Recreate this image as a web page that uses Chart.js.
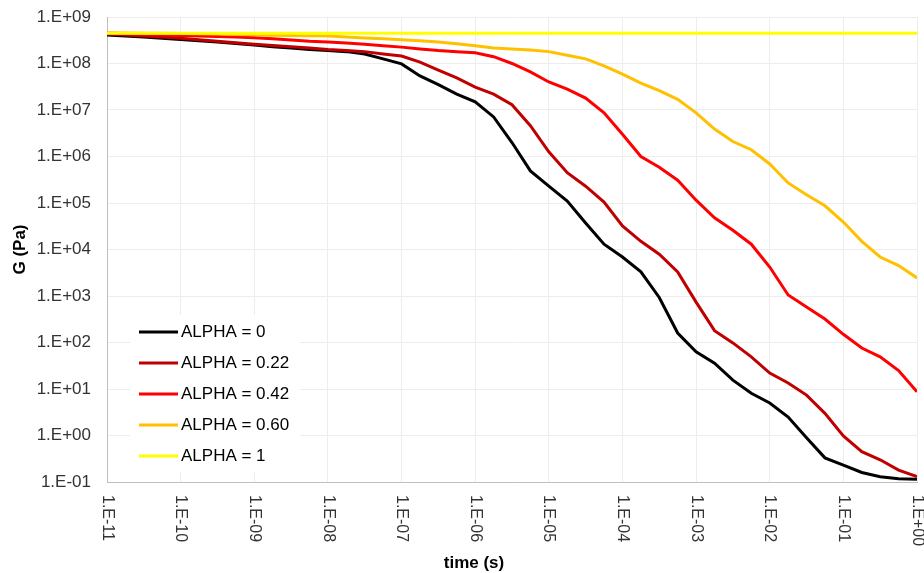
<!DOCTYPE html>
<html>
<head>
<meta charset="utf-8">
<script src="https://cdn.jsdelivr.net/npm/chart.js@4.4.1/dist/chart.umd.min.js"></script>
<style>
  html, body { margin: 0; padding: 0; background: #fff; }
  #wrap { width: 924px; height: 573px; position: relative; }
</style>
</head>
<body>
<div id="wrap"><canvas id="myChart"></canvas></div>
<script>
// time points (s), four per decade
var time = [1e-11, 1.78e-11, 3.16e-11, 5.62e-11, 1e-10, 1.78e-10, 3.16e-10, 5.62e-10,
  1e-9, 1.78e-9, 3.16e-9, 5.62e-9, 1e-8, 1.78e-8, 3.16e-8, 5.62e-8,
  1e-7, 1.78e-7, 3.16e-7, 5.62e-7, 1e-6, 1.78e-6, 3.16e-6, 5.62e-6,
  1e-5, 1.78e-5, 3.16e-5, 5.62e-5, 1e-4, 1.78e-4, 3.16e-4, 5.62e-4,
  1e-3, 1.78e-3, 3.16e-3, 5.62e-3, 1e-2, 1.78e-2, 3.16e-2, 5.62e-2,
  1e-1, 0.178, 0.316, 0.562, 1];

// G (Pa) for each alpha
var alpha0 = [4.1e8, 3.9e8, 3.7e8, 3.5e8, 3.3e8, 3.1e8, 2.9e8, 2.7e8, 2.5e8, 2.3e8, 2.15e8, 2.0e8,
  1.9e8, 1.8e8, 1.6e8, 1.26e8, 9.8e7, 5.4e7, 3.5e7, 2.2e7, 1.5e7, 7.1e6, 2.0e6, 4.9e5,
  2.3e5, 1.1e5, 3.7e4, 1.3e4, 6.9e3, 3.3e3, 930, 160, 63, 36, 15.5, 8.1, 5.0, 2.5,
  0.89, 0.33, 0.23, 0.16, 0.13, 0.117, 0.115];
var alpha022 = [4.3e8, 4.1e8, 3.9e8, 3.7e8, 3.5e8, 3.25e8, 3.0e8, 2.8e8, 2.6e8, 2.45e8, 2.3e8, 2.15e8,
  2.0e8, 1.9e8, 1.8e8, 1.6e8, 1.45e8, 1.07e8, 7.2e7, 4.9e7, 3.1e7, 2.2e7, 1.3e7, 4.6e6,
  1.26e6, 4.5e5, 2.3e5, 1.05e5, 3.2e4, 1.5e4, 7.9e3, 3.3e3, 740, 180, 98, 49, 22, 13.5,
  7.4, 3.0, 0.98, 0.45, 0.30, 0.18, 0.13];
var alpha042 = [4.5e8, 4.35e8, 4.2e8, 4.1e8, 4.0e8, 3.9e8, 3.8e8, 3.7e8, 3.6e8, 3.4e8, 3.2e8, 3.0e8,
  2.9e8, 2.75e8, 2.6e8, 2.4e8, 2.25e8, 2.05e8, 1.9e8, 1.8e8, 1.7e8, 1.4e8, 1.0e8, 6.6e7,
  4.0e7, 2.8e7, 1.8e7, 8.7e6, 3.0e6, 1.0e6, 5.9e5, 3.1e5, 1.15e5, 4.8e4, 2.6e4, 1.3e4,
  4.2e3, 1.05e3, 580, 320, 150, 76, 49, 25, 8.7];
var alpha060 = [4.6e8, 4.55e8, 4.5e8, 4.45e8, 4.4e8, 4.35e8, 4.3e8, 4.2e8, 4.15e8, 4.05e8, 4.0e8, 3.95e8,
  3.9e8, 3.7e8, 3.55e8, 3.4e8, 3.25e8, 3.1e8, 2.9e8, 2.65e8, 2.4e8, 2.15e8, 2.05e8, 1.95e8,
  1.8e8, 1.5e8, 1.26e8, 8.9e7, 5.9e7, 3.8e7, 2.6e7, 1.7e7, 8.7e6, 3.9e6, 2.1e6, 1.4e6,
  6.9e5, 2.7e5, 1.5e5, 8.7e4, 3.9e4, 1.5e4, 6.9e3, 4.5e3, 2.45e3];
var alpha1 = [4.5e8, 4.5e8, 4.5e8, 4.5e8, 4.5e8, 4.5e8, 4.5e8, 4.5e8, 4.5e8, 4.5e8, 4.5e8, 4.5e8,
  4.5e8, 4.5e8, 4.5e8, 4.5e8, 4.5e8, 4.5e8, 4.5e8, 4.5e8, 4.5e8, 4.5e8, 4.5e8, 4.5e8,
  4.5e8, 4.5e8, 4.5e8, 4.5e8, 4.5e8, 4.5e8, 4.5e8, 4.5e8, 4.5e8, 4.5e8, 4.5e8, 4.5e8,
  4.5e8, 4.5e8, 4.5e8, 4.5e8, 4.5e8, 4.5e8, 4.5e8, 4.5e8, 4.5e8];

var seriesNames = ['ALPHA = 0', 'ALPHA = 0.22', 'ALPHA = 0.42', 'ALPHA = 0.60', 'ALPHA = 1'];
var seriesColors = ['#000000', '#c00000', '#ff0000', '#ffc000', '#ffff00'];
var seriesValues = [alpha0, alpha022, alpha042, alpha060, alpha1];

var xTicks = [1e-11, 1e-10, 1e-9, 1e-8, 1e-7, 1e-6, 1e-5, 1e-4, 1e-3, 1e-2, 1e-1, 1];
var xTickLabels = ['1.E-11', '1.E-10', '1.E-09', '1.E-08', '1.E-07', '1.E-06', '1.E-05',
  '1.E-04', '1.E-03', '1.E-02', '1.E-01', '1.E+00'];
var yTicks = [1e-1, 1, 1e1, 1e2, 1e3, 1e4, 1e5, 1e6, 1e7, 1e8, 1e9];
var yTickLabels = ['1.E-01', '1.E+00', '1.E+01', '1.E+02', '1.E+03', '1.E+04', '1.E+05',
  '1.E+06', '1.E+07', '1.E+08', '1.E+09'];

var FONT = '"Liberation Sans", Arial, sans-serif';
Chart.defaults.font.family = FONT;
Chart.defaults.color = '#333';

// legend drawn inside the plot area, lower left
var inPlotLegend = {
  id: 'inPlotLegend',
  afterDatasetsDraw: function(chart) {
    var ctx = chart.ctx, area = chart.chartArea;
    var x0 = area.left + 23, y0 = area.bottom - 167;
    ctx.save();
    ctx.fillStyle = '#fff';
    ctx.fillRect(x0, y0, 170, 157);
    ctx.font = '17px ' + FONT;
    ctx.textBaseline = 'middle';
    chart.data.datasets.forEach(function(ds, i) {
      var y = y0 + 17 + i * 31;
      ctx.strokeStyle = ds.borderColor;
      ctx.lineWidth = 3;
      ctx.beginPath();
      ctx.moveTo(x0 + 9, y);
      ctx.lineTo(x0 + 48, y);
      ctx.stroke();
      ctx.fillStyle = '#000';
      ctx.fillText(ds.label, x0 + 51, y);
    });
    ctx.restore();
  }
};

// x tick labels turned clockwise (reading downwards) and the x title
var xLabels = {
  id: 'xLabels',
  afterDraw: function(chart) {
    var ctx = chart.ctx, sx = chart.scales.x, area = chart.chartArea;
    ctx.save();
    ctx.font = '16px ' + FONT;
    ctx.fillStyle = '#333';
    ctx.textAlign = 'left';
    ctx.textBaseline = 'middle';
    xTicks.forEach(function(v, i) {
      ctx.save();
      ctx.translate(sx.getPixelForValue(v), area.bottom + 13);
      ctx.rotate(Math.PI / 2);
      ctx.fillText(xTickLabels[i], 0, 0);
      ctx.restore();
    });
    ctx.font = 'bold 17px ' + FONT;
    ctx.fillStyle = '#000';
    ctx.textAlign = 'center';
    ctx.fillText('time (s)', 474, 563);
    ctx.restore();
  }
};

var ctx = document.getElementById('myChart').getContext('2d');
var myChart = new Chart(ctx, {
  type: 'line',
  data: {
    datasets: seriesNames.map(function(name, i) {
      return {
        label: name,
        data: time.map(function(t, j) { return { x: t, y: seriesValues[i][j] }; }),
        borderColor: seriesColors[i],
        backgroundColor: seriesColors[i],
        borderWidth: 3,
        pointRadius: 0,
        tension: 0,
        fill: false,
        order: 4 - i
      };
    })
  },
  plugins: [inPlotLegend, xLabels],
  options: {
    responsive: true,
    maintainAspectRatio: false,
    animation: false,
    layout: { padding: { top: 17, right: 7, left: 0, bottom: 0 } },
    plugins: {
      legend: { display: false },
      tooltip: { enabled: false }
    },
    scales: {
      x: {
        type: 'logarithmic',
        min: 1e-11,
        max: 1,
        afterBuildTicks: function(scale) {
          scale.ticks = xTicks.map(function(v) { return { value: v }; });
        },
        afterFit: function(scale) { scale.height = 91; },
        ticks: { display: false },
        grid: { color: '#ededed', lineWidth: 1, drawTicks: false },
        border: { color: '#bfbfbf', width: 1 }
      },
      y: {
        type: 'logarithmic',
        min: 1e-1,
        max: 1e9,
        afterBuildTicks: function(scale) {
          scale.ticks = yTicks.map(function(v) { return { value: v }; });
        },
        afterFit: function(scale) { scale.width = 107; },
        ticks: {
          padding: 0,
          font: { size: 17 },
          color: '#333',
          callback: function(value, index) { return yTickLabels[index]; }
        },
        title: {
          display: true,
          text: 'G (Pa)',
          color: '#000',
          font: { size: 17, weight: 'bold' },
          padding: { top: 10, bottom: 0 }
        },
        grid: { color: '#ededed', lineWidth: 1, drawTicks: true, tickLength: 16, tickColor: 'rgba(0,0,0,0)' },
        border: { color: '#bfbfbf', width: 1 }
      }
    }
  }
});
</script>
</body>
</html>
